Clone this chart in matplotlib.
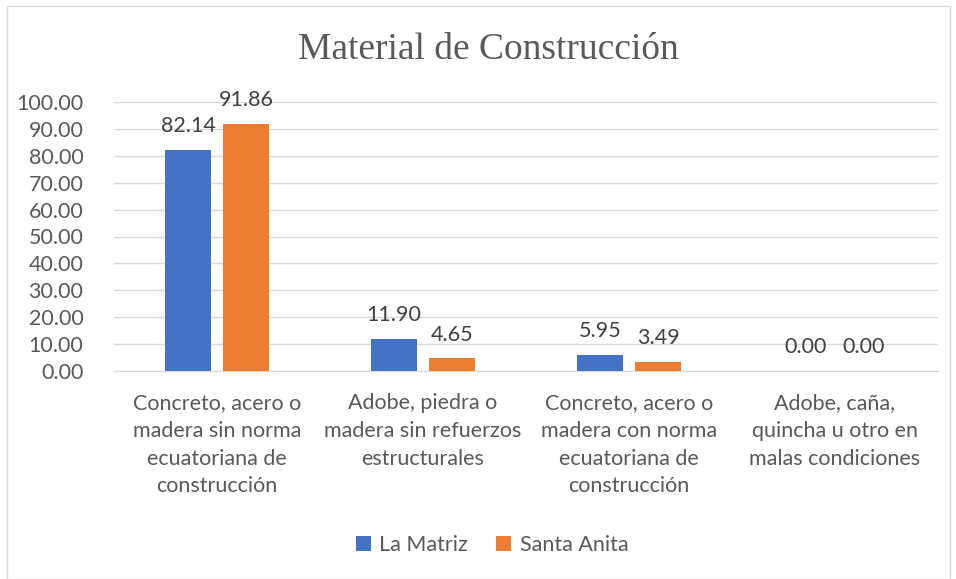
import matplotlib
matplotlib.use("Agg")
import matplotlib.pyplot as plt
import numpy as np
from matplotlib.patches import Rectangle

categories = [
    "Concreto, acero o\nmadera sin norma\necuatoriana de\nconstrucción",
    "Adobe, piedra o\nmadera sin refuerzos\nestructurales",
    "Concreto, acero o\nmadera con norma\necuatoriana de\nconstrucción",
    "Adobe, caña,\nquincha u otro en\nmalas condiciones",
]
series_names = ["La Matriz", "Santa Anita"]
la_matriz = [82.14, 11.90, 5.95, 0.00]
santa_anita = [91.86, 4.65, 3.49, 0.00]
yticks = [0, 10, 20, 30, 40, 50, 60, 70, 80, 90, 100]
title = "Material de Construcción"

colors = ["#4472C4", "#ED7D31"]
text_color = "#595959"
font = "Lato"
fs = 15.5

W, H = 956, 579
fig = plt.figure(figsize=(W / 100, H / 100), dpi=100)
fig.patches.append(Rectangle((7 / W, 0), (950 - 7) / W, (H - 6) / H,
                             transform=fig.transFigure, fill=False,
                             edgecolor="#d9d9d9", linewidth=1))

ax = fig.add_axes([114 / W, 1 - 371 / H, (938 - 114) / W, (371 - 102) / H])
x = np.arange(len(categories))
bw = 0.223
off = 0.141
for i, (vals, c, name) in enumerate(zip([la_matriz, santa_anita], colors, series_names)):
    pos = x + (-off if i == 0 else off)
    ax.bar(pos, vals, width=bw, color=c, label=name, zorder=3)
    for p, v in zip(pos, vals):
        ax.annotate(f"{v:.2f}", (p, v), xytext=(0, 10), textcoords="offset points",
                    ha="center", va="bottom", fontsize=fs, color="#404040",
                    family=font, zorder=4)

ax.set_xlim(-0.5, len(categories) - 0.5)
ax.set_ylim(0, 100)
ax.set_yticks(yticks)
ax.set_yticklabels([f"{v:.2f}" for v in yticks], fontsize=fs, color=text_color, family=font)
ax.set_xticks(x)
ax.set_xticklabels(categories, fontsize=fs, color=text_color, family=font, linespacing=1.48)
ax.tick_params(axis="both", length=0)
ax.tick_params(axis="x", pad=16)
ax.tick_params(axis="y", pad=22)
ax.grid(axis="y", color="#d9d9d9", linewidth=1, zorder=0)
for s in ["top", "right", "left"]:
    ax.spines[s].set_visible(False)
ax.spines["bottom"].set_color("#d9d9d9")

fig.text(488 / W, 1 - 50 / H, title, ha="center", va="center",
         fontsize=27, color=text_color, family="Liberation Serif")

leg = fig.legend(loc="center", bbox_to_anchor=(492 / W, 1 - 545 / H), ncol=2,
                 frameon=False, prop={"family": font, "size": fs},
                 handlelength=0.7, handleheight=0.7, handletextpad=0.4,
                 columnspacing=1.3)
for t in leg.get_texts():
    t.set_color(text_color)

fig.savefig("out.png", dpi=100)
